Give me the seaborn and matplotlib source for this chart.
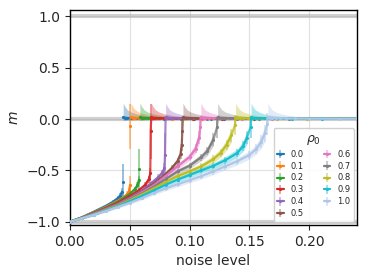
import numpy as np
import matplotlib
matplotlib.use("Agg")
import matplotlib.pyplot as plt
import seaborn as sns

# initial densities, one curve each
rho0 = [0.0, 0.1, 0.2, 0.3, 0.4, 0.5, 0.6, 0.7, 0.8, 0.9, 1.0]
# whether the steep rise runs straight into the m ~ 0 branch
joined = [False, False, False, True, True, True, True, True, True, True, True]

# ordered branch (m near -1): noise level, m, error
# the last entry of each list is the point at the jump (large error bar)
x_00 = [0, 0.01, 0.02, 0.03, 0.036, 0.04, 0.042, 0.0435, 0.044]
m_00 = [-1, -0.956, -0.902, -0.845, -0.805, -0.77, -0.745, -0.71, -0.61]
e_00 = [0.004, 0.008, 0.01, 0.012, 0.015, 0.02, 0.025, 0.035, 0.17]

x_01 = [0, 0.01, 0.02, 0.03, 0.04, 0.045, 0.048, 0.0495, 0.0503, 0.0505]
m_01 = [-1, -0.958, -0.908, -0.855, -0.795, -0.76, -0.73, -0.70, -0.64, -0.07]
e_01 = [0.004, 0.008, 0.01, 0.012, 0.015, 0.02, 0.025, 0.03, 0.09, 0.22]

x_02 = [0, 0.01, 0.02, 0.03, 0.04, 0.05, 0.054, 0.0565, 0.0578, 0.058]
m_02 = [-1, -0.96, -0.912, -0.862, -0.805, -0.73, -0.685, -0.645, -0.59, -0.49]
e_02 = [0.004, 0.008, 0.01, 0.012, 0.015, 0.018, 0.022, 0.028, 0.04, 0.2]

x_03 = [0, 0.01, 0.02, 0.03, 0.04, 0.05, 0.058, 0.063, 0.066, 0.0672, 0.0675]
m_03 = [-1, -0.961, -0.915, -0.868, -0.815, -0.75, -0.69, -0.64, -0.585, -0.53, -0.12]
e_03 = [0.004, 0.008, 0.01, 0.012, 0.014, 0.017, 0.02, 0.025, 0.035, 0.05, 0.27]

x_04 = [0, 0.01, 0.02, 0.03, 0.04, 0.05, 0.06, 0.068, 0.074, 0.077, 0.079, 0.0795]
m_04 = [-1, -0.962, -0.918, -0.872, -0.825, -0.765, -0.70, -0.625, -0.565, -0.525, -0.48, -0.35]
e_04 = [0.004, 0.008, 0.01, 0.012, 0.014, 0.016, 0.019, 0.022, 0.027, 0.033, 0.05, 0.21]

x_05 = [0, 0.01, 0.02, 0.03, 0.04, 0.05, 0.06, 0.07, 0.08, 0.085, 0.09, 0.0925, 0.0935, 0.094]
m_05 = [-1, -0.962, -0.92, -0.875, -0.83, -0.768, -0.71, -0.63, -0.535, -0.48, -0.41, -0.34, -0.25, -0.12]
e_05 = [0.004, 0.008, 0.01, 0.012, 0.014, 0.016, 0.018, 0.02, 0.024, 0.028, 0.034, 0.045, 0.06, 0.1]

x_06 = [0, 0.01, 0.02, 0.03, 0.04, 0.05, 0.06, 0.07, 0.08, 0.09, 0.1, 0.105, 0.108, 0.109]
m_06 = [-1, -0.963, -0.922, -0.878, -0.833, -0.775, -0.715, -0.645, -0.555, -0.46, -0.37, -0.29, -0.18, -0.08]
e_06 = [0.004, 0.008, 0.01, 0.012, 0.014, 0.016, 0.018, 0.02, 0.023, 0.027, 0.033, 0.042, 0.06, 0.1]

x_07 = [0, 0.01, 0.02, 0.03, 0.04, 0.05, 0.06, 0.07, 0.08, 0.09, 0.1, 0.11, 0.115, 0.12, 0.123]
m_07 = [-1, -0.964, -0.925, -0.882, -0.838, -0.782, -0.725, -0.66, -0.585, -0.51, -0.455, -0.37, -0.31, -0.2, -0.08]
e_07 = [0.004, 0.008, 0.01, 0.012, 0.014, 0.016, 0.018, 0.02, 0.022, 0.025, 0.028, 0.034, 0.042, 0.06, 0.1]

x_08 = [0, 0.01, 0.02, 0.03, 0.04, 0.05, 0.06, 0.07, 0.08, 0.09, 0.1, 0.11, 0.12, 0.126, 0.131, 0.135, 0.138]
m_08 = [-1, -0.965, -0.927, -0.886, -0.843, -0.79, -0.735, -0.675, -0.615, -0.555, -0.51, -0.46, -0.39, -0.33, -0.25, -0.16, -0.06]
e_08 = [0.004, 0.008, 0.01, 0.012, 0.014, 0.016, 0.018, 0.02, 0.022, 0.024, 0.026, 0.03, 0.035, 0.04, 0.05, 0.065, 0.1]

x_09 = [0, 0.01, 0.02, 0.03, 0.04, 0.05, 0.06, 0.07, 0.08, 0.09, 0.1, 0.11, 0.12, 0.13, 0.14, 0.145, 0.148, 0.151]
m_09 = [-1, -0.966, -0.93, -0.89, -0.848, -0.80, -0.75, -0.695, -0.64, -0.59, -0.545, -0.50, -0.455, -0.40, -0.33, -0.26, -0.18, -0.08]
e_09 = [0.004, 0.008, 0.01, 0.012, 0.014, 0.016, 0.018, 0.02, 0.022, 0.024, 0.026, 0.028, 0.03, 0.034, 0.04, 0.05, 0.065, 0.1]

x_10 = [0, 0.01, 0.02, 0.03, 0.04, 0.05, 0.06, 0.07, 0.08, 0.09, 0.1, 0.11, 0.12, 0.13, 0.14, 0.15, 0.156, 0.16, 0.163, 0.165]
m_10 = [-1, -0.967, -0.932, -0.895, -0.855, -0.815, -0.77, -0.72, -0.675, -0.635, -0.595, -0.555, -0.51, -0.46, -0.41, -0.35, -0.29, -0.22, -0.14, -0.05]
e_10 = [0.004, 0.008, 0.01, 0.012, 0.014, 0.016, 0.018, 0.02, 0.022, 0.024, 0.026, 0.028, 0.03, 0.032, 0.035, 0.04, 0.048, 0.06, 0.08, 0.11]

# disordered branch (m near 0), offsets from where each curve jumps
dx_up = [0.0005, 0.002, 0.004, 0.007, 0.011, 0.016, 0.023, 0.035, 0.06, 0.24]
m_up = [0.015, 0.012, 0.01, 0.008, 0.007, 0.006, 0.005, 0.004, 0.003, 0.002]
e_up_hi = [0.14, 0.11, 0.08, 0.06, 0.045, 0.033, 0.022, 0.014, 0.009, 0.005]
e_up_lo = [0.03, 0.025, 0.02, 0.016, 0.012, 0.01, 0.008, 0.006, 0.005, 0.004]

xs = [x_00, x_01, x_02, x_03, x_04, x_05, x_06, x_07, x_08, x_09, x_10]
ms = [m_00, m_01, m_02, m_03, m_04, m_05, m_06, m_07, m_08, m_09, m_10]
es = [e_00, e_01, e_02, e_03, e_04, e_05, e_06, e_07, e_08, e_09, e_10]

sns.set_style("ticks")
plt.rcParams["font.family"] = ["DejaVu Sans"]
colors = sns.color_palette("tab10") + [sns.color_palette("tab20")[1]]

fig = plt.figure(figsize=(3.68, 2.79), dpi=100)
ax = fig.add_axes([0.19, 0.194, 0.78, 0.77])

for yv in [-1, 0, 1]:
    ax.axhline(yv, color="0.6", alpha=0.45, lw=3, zorder=1)

for rho, x, m, e, c, join in zip(rho0, xs, ms, es, colors, joined):
    xc = x[-1]
    ecol = (*c, 0.5)
    xu = np.array([xc + d for d in dx_up])
    mu = np.array(m_up)
    # ordered branch
    xl, ml, el = np.array(x[:-1]), np.array(m[:-1]), np.array(e[:-1])
    ax.fill_between(xl, ml - el, ml + el, color=c, alpha=0.35, lw=0, zorder=2)
    ax.errorbar(xl, ml, yerr=el, fmt=".-", ms=2.5, lw=1.6, elinewidth=1.2,
                ecolor=ecol, color=c, label=f"{rho:.1f}", zorder=3)
    # point at the jump
    ax.errorbar([xc], [m[-1]], yerr=[e[-1]], fmt=".", ms=2.5, elinewidth=1.3,
                ecolor=ecol, color=c, zorder=3)
    if join:
        ax.plot([x[-2], xc, xu[0]], [m[-2], m[-1], mu[0]], "-", lw=1.6,
                color=c, alpha=0.8, zorder=3)
    # disordered branch
    ax.fill_between(xu, mu - np.array(e_up_lo), mu + np.array(e_up_hi),
                    color=c, alpha=0.35, lw=0, zorder=2)
    ax.plot(xu, mu, ".-", ms=2.5, lw=1.6, color=c, zorder=3)

# x-axis
ax.set_xlim(0, 0.24)
ax.set_xticks([0.0, 0.05, 0.1, 0.15, 0.2])
ax.set_xticklabels(["0.00", "0.05", "0.10", "0.15", "0.20"])
ax.set_xlabel("noise level", fontsize=10)
# y-axis
ax.set_ylim(-1.03, 1.06)
ax.set_yticks([-1.0, -0.5, 0.0, 0.5, 1.0])
ax.set_ylabel("$m$", fontsize=10)
# remainder
ax.tick_params(labelsize=10)
ax.grid(True, color="0.88", lw=0.8)
ax.set_axisbelow(True)
for loc in ["top", "right", "bottom", "left"]:
    ax.spines[loc].set_color("black")
    ax.spines[loc].set_linewidth(1.0)

leg = ax.legend(title="$\\rho_0$", ncol=2, loc="lower right", fontsize=6,
                title_fontsize=9, handlelength=0.8, columnspacing=2.4,
                borderaxespad=0.4, labelspacing=0.35, framealpha=0.9,
                borderpad=0.4)

fig.savefig("out.png", dpi=100)
